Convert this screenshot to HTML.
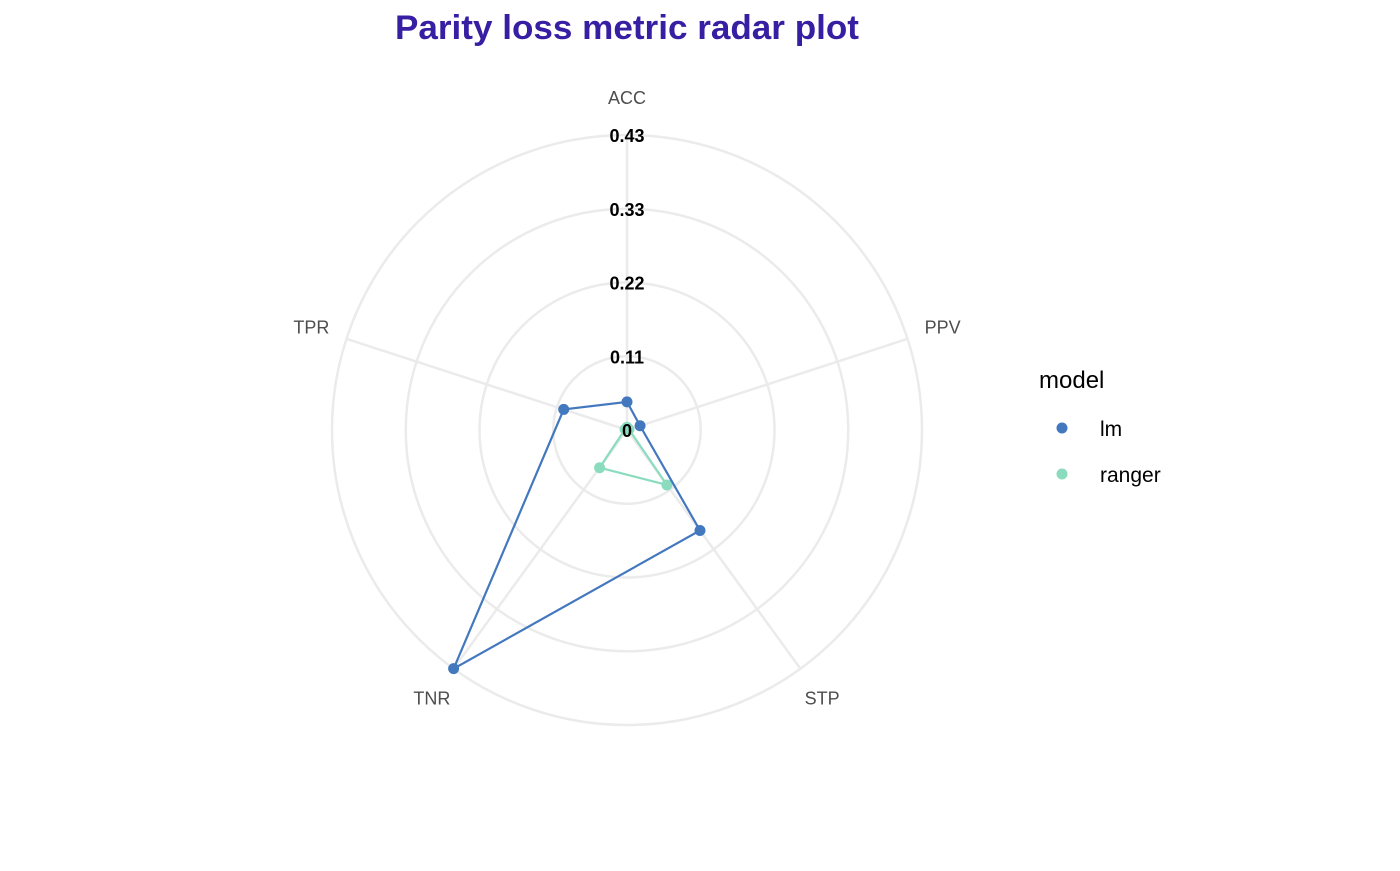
<!DOCTYPE html>
<html><head><meta charset="utf-8"><style>
body{margin:0;background:#fff;}
svg{font-family:"Liberation Sans",sans-serif;}
</style></head><body>
<svg id="chart" width="1400" height="866">
<text x="627" y="39" text-anchor="middle" font-size="34" font-weight="bold" fill="#371ea3" textLength="464" lengthAdjust="spacingAndGlyphs">Parity loss metric radar plot</text>
<g id="grid"></g><g id="series"></g><g id="ticks"></g>
<g>
<text x="1039" y="388" font-size="24" fill="#000">model</text>
<circle cx="1062" cy="428" r="5.5" fill="#4378bf"/>
<text x="1100" y="436" font-size="21" fill="#000">lm</text>
<circle cx="1062" cy="474" r="5.5" fill="#8bdcbe"/>
<text x="1100" y="482" font-size="21" fill="#000">ranger</text>
</g>
</svg>
<script>
const metrics=["ACC","PPV","STP","TNR","TPR"];
const lmValues=[0.041,0.02,0.181,0.43,0.097];
const rangerValues=[0.004,0.003,0.099,0.068,0.003];
const tickValues=[0,0.1075,0.215,0.3225,0.43];
const tickLabels=["0","0.11","0.22","0.33","0.43"];
const cx=627,cy=430,R=295,maxV=0.43;
const NS="http://www.w3.org/2000/svg";
function r(v){return v/maxV*R;}
function ang(i){return i*2*Math.PI/metrics.length;}
function pt(i,v){return [cx+r(v)*Math.sin(ang(i)),cy-r(v)*Math.cos(ang(i))];}
function mk(tag,attrs,parent){const e=document.createElementNS(NS,tag);for(const k in attrs)e.setAttribute(k,attrs[k]);parent.appendChild(e);return e;}
const grid=document.getElementById('grid');
tickValues.slice(1).forEach((t,k)=>{
 const c=mk('circle',{cx:cx,cy:cy,r:r(t),fill:'none',stroke:'#ebebeb','stroke-width':2.5},grid);
 
 
});
metrics.forEach((m,i)=>{
 const [x,y]=pt(i,maxV);
 const l=mk('line',{x1:cx,y1:cy,x2:x,y2:y,stroke:'#ebebeb','stroke-width':2.5},grid);
 
 
 const [lx,ly]=pt(i,maxV*1.125);
 const t=mk('text',{x:lx,y:ly+6,'text-anchor':'middle','font-size':18,fill:'#4d4d4d'},grid);
 t.textContent=m;
 
 
});
const ser=document.getElementById('series');
[[rangerValues,'#8bdcbe','ranger'],[lmValues,'#4378bf','lm']].forEach(([vals,col,name])=>{
 const pts=vals.map((v,i)=>pt(i,v));
 const p=mk('polygon',{points:pts.map(q=>q.join(',')).join(' '),fill:'none',stroke:col,'stroke-width':2.2},ser);
 
 
 pts.forEach((q,i)=>{
  const c=mk('circle',{cx:q[0],cy:q[1],r:5.5,fill:col},ser);
  
  
 });
});
const tk=document.getElementById('ticks');
tickValues.forEach((t,k)=>{
 const e=mk('text',{x:cx,y:cy-r(t)+7,'text-anchor':'middle','font-size':18,'font-weight':'bold',fill:'#000'},tk);
 e.textContent=tickLabels[k];
 
 
});
</script>
</body></html>
